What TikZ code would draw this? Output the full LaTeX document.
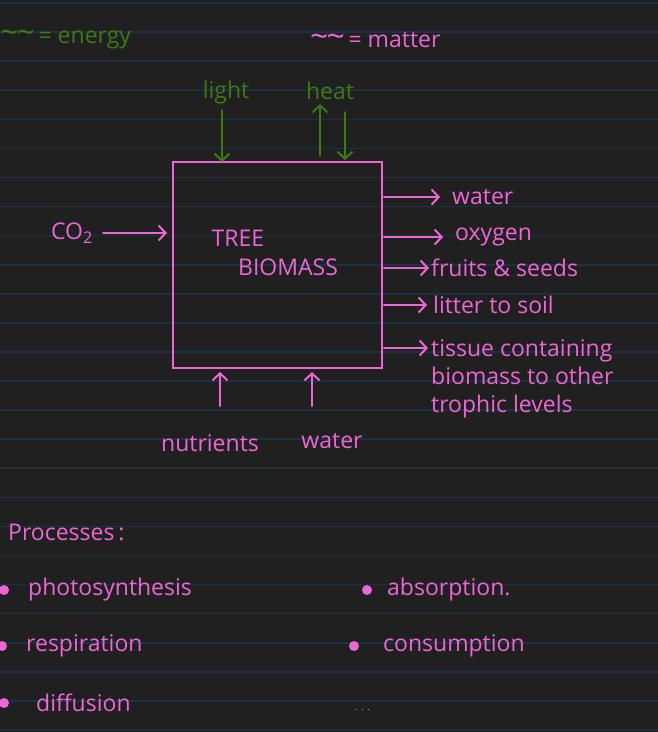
\documentclass[tikz,border=0pt]{standalone}
\usepackage{fontspec}
\setmainfont{Open Sans}
\usetikzlibrary{arrows.meta}
\definecolor{board}{HTML}{202020}
\definecolor{ruling}{HTML}{1C3242}
\definecolor{ink}{HTML}{EE66D4}
\definecolor{leaf}{HTML}{3C7A14}
\tikzset{
  matter/.style={text=ink, inner sep=0pt, font=\fontsize{23}{28}\selectfont},
  energy/.style={text=leaf, inner sep=0pt, font=\fontsize{23}{28}\selectfont},
  flow/.style={draw=ink, line width=2pt, line cap=round,
    -{Straight Barb[length=7pt,width=15pt,line width=2pt]}},
  heatflow/.style={flow, draw=leaf},
  dot/.style={circle, fill=ink, minimum size=10pt, inner sep=0pt},
}
\newcommand{\squiggle}{{\fontsize{32}{32}\selectfont\char`~\kern-2pt\char`~}}
\begin{document}
\begin{tikzpicture}[x=1pt,y=-1pt]
  \useasboundingbox (0,0) rectangle (658,732);
  \clip (0,0) rectangle (658,732);
  % lined page
  \fill[board] (0,0) rectangle (658,732);
  \foreach \k in {0,...,25}
    \draw[ruling, line width=1.6pt] (0,3+29.08*\k) -- (658,3+29.08*\k);

  % key
  \node[energy, anchor=west] (key1) at (0,40) {\squiggle\,= energy};
  \node[matter, anchor=west] (key2) at (310,40) {\squiggle\,= matter};

  % the tree
  \node[draw=ink, line width=2pt, inner sep=0pt, outer sep=0pt,
        minimum width=209pt, minimum height=206pt] (box) at (277.5,265) {};
  \node[matter] (tree) at (238,238) {TREE};
  \node[matter] (biomass) at (288,267) {BIOMASS};

  % energy in and out
  \node[energy] (light) at (226,93) {light};
  \node[energy] (heat) at (330,91) {heat};
  \draw[heatflow] (222,110) coordinate (l1) -- (l1 |- box.north);
  \draw[heatflow, shorten <=6pt, shorten >=4pt] (320,162) coordinate (h1) -- (h1 |- heat.south);
  \draw[heatflow, shorten >=2pt] (345,112) coordinate (h2) -- (h2 |- box.north);

  % matter in
  \node[matter] (co2) at (72,233) {CO\textsubscript{2}};
  \draw[flow, shorten <=10pt, shorten >=6pt] (co2.east) -- (co2.east -| box.west);
  \node[matter] (nutrients) at (210,443) {nutrients};
  \node[matter] (water1) at (332,441) {water};
  \draw[flow, shorten >=4pt] (220,406) coordinate (n1) -- (n1 |- box.south);
  \draw[flow, shorten >=4pt] (312,406) coordinate (w1) -- (w1 |- box.south);

  % matter out
  \node[matter, anchor=west] (water2) at (452,197) {water};
  \node[matter, anchor=west] (oxygen) at (455,237) {oxygen};
  \node[matter, anchor=west] (fruits) at (431,268) {fruits \& seeds};
  \node[matter, anchor=west] (litter) at (433,305) {litter to soil};
  \node[matter, anchor=west, align=left] (tissue) at (431,379)
    {tissue containing\\biomass to other\\trophic levels};
  \draw[flow, shorten <=2pt] (box.east |- water2) -- ([xshift=-12pt]water2.west);
  \draw[flow, shorten <=2pt] (box.east |- oxygen) -- ([xshift=-12pt]oxygen.west);
  \draw[flow, shorten <=2pt] (box.east |- fruits) -- ([xshift=-2pt]fruits.west);
  \draw[flow, shorten <=2pt] (box.east |- litter) -- ([xshift=-6pt]litter.west);
  \draw[flow, shorten <=2pt] (box.east |- 0,348) -- (428,348);

  % processes
  \node[matter, anchor=west] (proc) at (8,532) {Processes\,:};
  \node[dot] (b1) at (4,590) {};
  \node[dot] (b2) at (2,646) {};
  \node[dot] (b3) at (4,703) {};
  \node[dot] (b4) at (367,590) {};
  \node[dot] (b5) at (354,646) {};
  \node[matter, anchor=west] (photo) at (28,590) {photosynthesis};
  \node[matter, anchor=west] (resp) at (26,646) {respiration};
  \node[matter, anchor=west] (diff) at (36,703) {diffusion};
  \node[matter, anchor=west] (absorb) at (387,590) {absorption.};
  \node[matter, anchor=west] (consume) at (383,646) {consumption};
  \node[matter, anchor=west, font=\fontsize{10}{12}\selectfont] (more) at (355,710) {. . .};
\end{tikzpicture}
\end{document}
